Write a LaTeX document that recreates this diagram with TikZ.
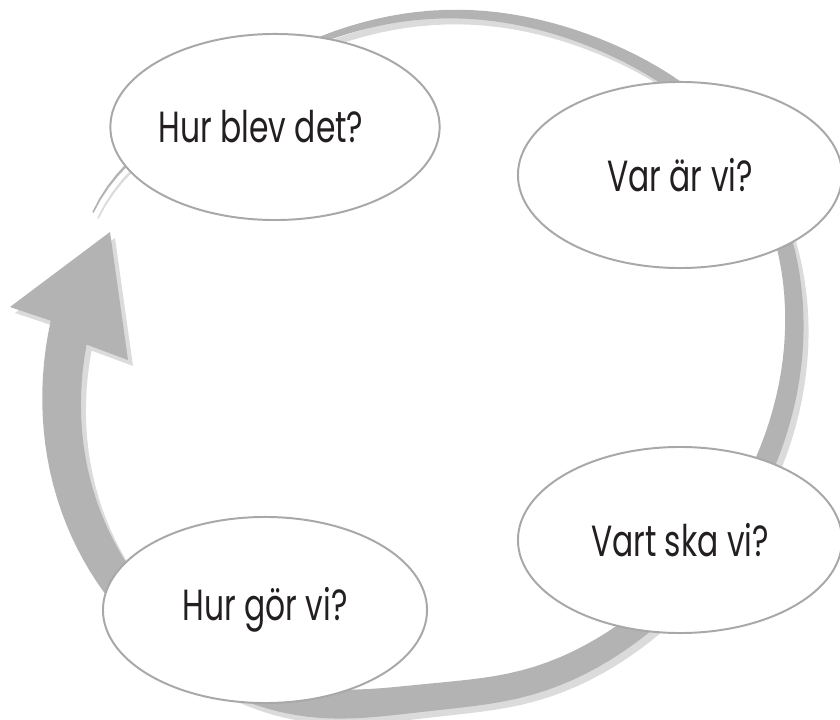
\documentclass[tikz,border=0pt]{standalone}
\usepackage{fontspec}
\setmainfont{Poppins}[FakeStretch=0.72]
\usetikzlibrary{shapes.geometric}
\definecolor{ringgray}{HTML}{B3B3B3}
\definecolor{shadowgray}{HTML}{DBDBDB}
\definecolor{rimgray}{HTML}{A8A8A8}
\definecolor{inkgray}{HTML}{231F20}
\tikzset{%
	bubble/.style = {draw=rimgray, line width=1.4pt, fill=white, ellipse,
		minimum width=8.1cm, minimum height=4.65cm, inner sep=0pt,
		text=inkgray, font=\fontsize{31}{34}\selectfont},
	% tilted egg-shaped ring, band widening from the tail to the head
	declare function={
		bandw(\t)    = 1.5 + 38.5*(118-\t)/341;
		bulge(\t)    = 1 + 0.06*exp(-((\t-115)/15)^2) - 0.04*exp(-((\t+122)/16)^2)
		               - 0.025*exp(-((\t-30)/25)^2);
		ringx(\t,\s) = 428 + bulge(\t)*((380+\s*bandw(\t)/2)*cos(\t)*cos(35)
		               - (337+\s*bandw(\t)/2)*sin(\t)*sin(35));
		ringy(\t,\s) = 362 - bulge(\t)*((380+\s*bandw(\t)/2)*cos(\t)*sin(35)
		               + (337+\s*bandw(\t)/2)*sin(\t)*cos(35));
	}
}

\begin{document}
\begin{tikzpicture}[x=0.025cm, y=-0.025cm]
\useasboundingbox (0,0) rectangle (840,720);

% arrow band: shadow first, then the band itself
\foreach \dx/\dy/\col in {5/6/shadowgray, 0/0/ringgray}{
	\fill[\col, shift={(\dx,\dy)}]
		plot[domain=118:-224.5, samples=160, variable=\t] ({ringx(\t,1)}, {ringy(\t,1)})
		-- (10,307) -- (110,232) -- (128,360)
		-- plot[domain=-221.5:118, samples=160, variable=\t] ({ringx(\t,-1)}, {ringy(\t,-1)})
		-- cycle;
}

\node[bubble] (hurblev) at (275,127) {Hur blev det?\kern0.7cm};
\node[bubble] (varar)   at (680,175) {Var är vi?};
\node[bubble] (vartska) at (680,540) {Vart ska vi?};
\node[bubble] (hurgor)  at (265,610) {Hur gör vi?};
\end{tikzpicture}
\end{document}
